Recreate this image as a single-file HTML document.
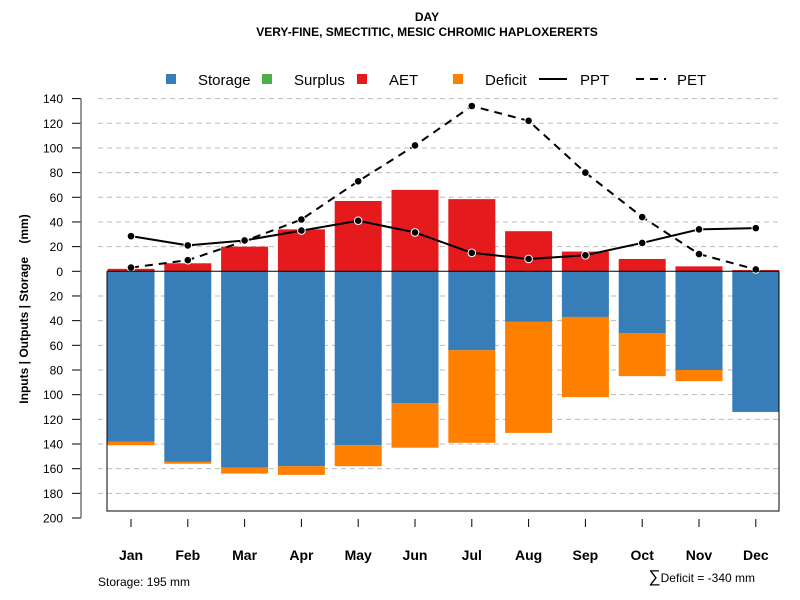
<!DOCTYPE html>
<html><head><meta charset="utf-8"><style>body{margin:0;background:#fff}svg{display:block;font-family:"Liberation Sans",sans-serif}</style></head>
<body>
<svg id="chart" width="800" height="600" viewBox="0 0 800 600" xmlns="http://www.w3.org/2000/svg">
<text x="427" y="21" text-anchor="middle" font-size="12" font-weight="bold">DAY</text>
<text x="427" y="36" text-anchor="middle" font-size="12" font-weight="bold">VERY-FINE, SMECTITIC, MESIC CHROMIC HAPLOXERERTS</text>
<g id="grid"></g><g id="bars"></g><g id="lines"></g><g id="axes"></g>
<g font-size="15">
<rect x="166" y="74" width="10" height="10" fill="#377EB8"/><text x="198" y="85">Storage</text>
<rect x="262" y="74" width="10" height="10" fill="#4DAF4A"/><text x="294" y="85">Surplus</text>
<rect x="357" y="74" width="10" height="10" fill="#E41A1C"/><text x="389" y="85">AET</text>
<rect x="453" y="74" width="10" height="10" fill="#FF7F00"/><text x="485" y="85">Deficit</text>
<line x1="539" y1="79" x2="567" y2="79" stroke="#000" stroke-width="2"/><text x="580" y="85">PPT</text>
<line x1="636" y1="79" x2="666" y2="79" stroke="#000" stroke-width="2" stroke-dasharray="8,6"/><text x="677" y="85">PET</text>
</g>
<text transform="translate(28,309) rotate(-90)" text-anchor="middle" font-size="12" font-weight="bold" xml:space="preserve">Inputs | Outputs | Storage    (mm)</text>
<text x="98" y="586" font-size="12">Storage: 195 mm</text>
<text x="755" y="582" text-anchor="end" font-size="12"><tspan font-size="17">∑</tspan>Deficit = -340 mm</text>
</svg>
<script>
const months=["Jan","Feb","Mar","Apr","May","Jun","Jul","Aug","Sep","Oct","Nov","Dec"];
const aet=[2,6.5,20,34,57,66,58.5,32.5,16,10,4,1];
const storage=[138,154.5,159,158,141,107,64,41,37,50,80,114];
const deficit=[3,1.5,5,7,17,36,75,90,65,35,9,0];
const ppt=[28.5,21,25,33,41,31.5,15,10,13,23,34,35];
const pet=[3,9,24.5,42,73,102,134,122,80,44,14,1.5];
const yTicks=[140,120,100,80,60,40,20,0,20,40,60,80,100,120,140,160,180,200];
const yTickVals=[140,120,100,80,60,40,20,0,-20,-40,-60,-80,-100,-120,-140,-160,-180,-200];
const NS="http://www.w3.org/2000/svg";
const y=v=>271.3-v*1.2336;
const x=i=>131+i*56.8;
const bw=47;
function mk(p,t,a){const e=document.createElementNS(NS,t);for(const k in a)e.setAttribute(k,a[k]);document.getElementById(p).appendChild(e);return e;}
yTickVals.forEach((v,i)=>{
 if(v!==0&&v>=-180){const g=mk("grid","line",{x1:98,x2:779,y1:y(v),y2:y(v),stroke:"#bbb","stroke-dasharray":"5,4"});
 
 }
 const t=mk("axes","line",{x1:72,x2:81,y1:y(v),y2:y(v),stroke:"#000"});
 
 
 const l=mk("axes","text",{x:63,y:y(v)+4.5,"text-anchor":"end","font-size":"12"});l.textContent=yTicks[i];
 
 
});
const ax=mk("axes","line",{x1:81,x2:81,y1:y(140),y2:y(-200),stroke:"#777","stroke-width":1.5});


months.forEach((m,i)=>{
 const s=mk("bars","rect",{x:x(i)-bw/2,y:y(0),width:bw,height:y(-storage[i])-y(0),fill:"#377EB8"});
 
 
 if(deficit[i]>0){const d=mk("bars","rect",{x:x(i)-bw/2,y:y(-storage[i]),width:bw,height:y(-storage[i]-deficit[i])-y(-storage[i]),fill:"#FF7F00"});
 
 }
 const a=mk("bars","rect",{x:x(i)-bw/2,y:y(aet[i]),width:bw,height:y(0)-y(aet[i]),fill:"#E41A1C"});
 
 
 const t=mk("axes","line",{x1:x(i),x2:x(i),y1:519,y2:527,stroke:"#000"});
 
 
 const l=mk("axes","text",{x:x(i),y:560,"text-anchor":"middle","font-size":"14","font-weight":"bold"});l.textContent=m;
 
 
});
const fr=mk("axes","path",{d:`M107 ${y(0)} V511 H779 V${y(0)}`,fill:"none",stroke:"#000"});


const z=mk("axes","line",{x1:107,x2:779,y1:y(0),y2:y(0),stroke:"#000"});


function series(vals,dash,name){
 const p=mk("lines","polyline",{points:vals.map((v,i)=>x(i)+","+y(v)).join(" "),fill:"none",stroke:"#000","stroke-width":2,"stroke-dasharray":dash});
 
 
 vals.forEach((v,i)=>{const c=mk("lines","circle",{cx:x(i),cy:y(v),r:3.8,fill:"#000",stroke:"#fff","stroke-width":1});
 
 });
}
series(pet,"8,6","pet");
series(ppt,"none","ppt");
</script>
</body></html>
